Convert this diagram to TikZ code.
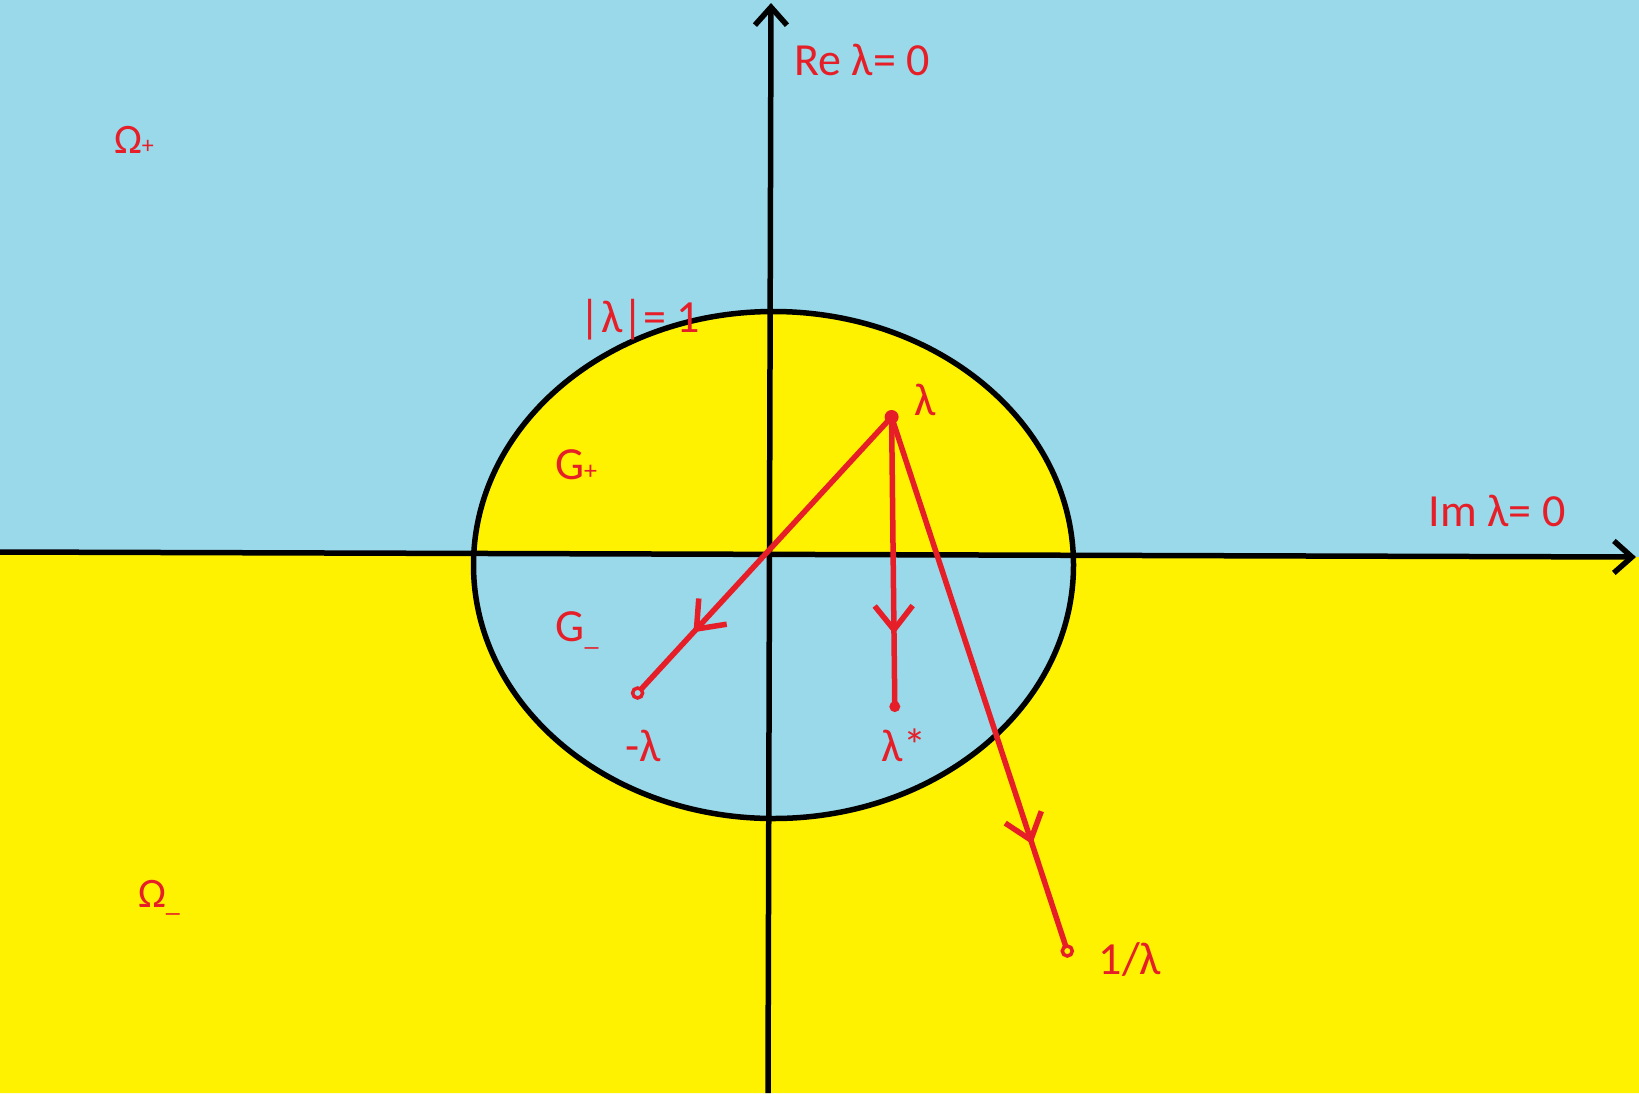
\documentclass[tikz,border=0pt]{standalone}
\usepackage{fontspec}
\setmainfont{Carlito}
\usetikzlibrary{arrows.meta,decorations.markings}
\definecolor{skyb}{HTML}{99D9EA}
\definecolor{pyel}{HTML}{FFF200}
\definecolor{pred}{HTML}{E61E28}
\begin{document}
\begin{tikzpicture}[x=1pt,y=-1pt,
  lbl/.style={text=pred,font=\fontsize{46}{50}\selectfont,inner sep=0pt},
  omg/.style={text=pred,font=\fontsize{42}{46}\selectfont,inner sep=0pt},
  redline/.style={draw=pred,line width=5.5pt},
  axisline/.style={draw=black,line width=5.5pt,-{Straight Barb[length=18pt,width=32pt]}},
  midarrow/.style={postaction={decorate},decoration={markings,mark=at position #1 with {\arrow[pred,line width=5.5pt]{Straight Barb[length=24pt,width=38pt]}}}}]
\useasboundingbox (0,0) rectangle (1639,1093);
% background
\fill[skyb] (0,0) rectangle (1639,1093);
\fill[pyel] (0,552) -- (1639,557) -- (1639,1093) -- (0,1093) -- cycle;
\begin{scope}
  \clip (773.5,565) ellipse [x radius=300pt, y radius=253.5pt];
  \fill[pyel] (0,0) -- (1639,0) -- (1639,557) -- (0,552) -- cycle;
  \fill[skyb] (0,552) -- (1639,557) -- (1639,1093) -- (0,1093) -- cycle;
\end{scope}
\draw[line width=5.5pt] (773.5,565) ellipse [x radius=300pt, y radius=253.5pt];
% axes
\coordinate (hl) at (0,552);
\coordinate (hr) at (1636,557);
\coordinate (vb) at (768,1093);
\coordinate (vt) at (771,3);
\draw[axisline] (hl) -- (hr);
\draw[axisline] (vb) -- (vt);
% points
\coordinate (lam) at (891.6,417);
\coordinate (mlam) at (637.6,693);
\coordinate (lstar) at (894.8,706.6);
\coordinate (inv) at (1067.3,951);
\draw[redline,midarrow=0.78] (lam) -- (mlam);
\draw[redline,midarrow=0.75] (lam) -- (lstar);
\draw[redline,midarrow=0.80] (lam) -- (inv);
\fill[pred] (lam) circle[radius=7pt];
\fill[pred] (lstar) circle[radius=5.5pt];
\draw[pred,line width=3.5pt,fill=skyb] (mlam) circle[radius=5pt];
\draw[pred,line width=3.5pt,fill=pyel] (inv) circle[radius=5pt];
% labels
\node[lbl] (reL) at (862,60) {Re λ= 0};
\node[lbl] (imL) at (1497,511) {Im λ= 0};
\node[lbl] (absL) at (640,320) {|λ|= 1};
\node[omg] (opL) at (134,140) {Ω{\fontsize{24}{26}\selectfont +}};
\node[omg] (omL) at (159,898) {Ω\raisebox{-4pt}{\fontsize{28}{30}\selectfont\_}};
\node[lbl] (gpL) at (576,465) {G{\fontsize{26}{28}\selectfont +}};
\node[lbl] (gmL) at (577,630) {G\raisebox{-4pt}{\fontsize{28}{30}\selectfont\_}};
\node[lbl] (lamL) at (925,400) {λ};
\node[lbl] (mlamL) at (643,746) {-λ};
\node[lbl] (lstarL) at (904,745) {λ*};
\node[lbl] (invL) at (1130,959) {1/λ};
\end{tikzpicture}
\end{document}
